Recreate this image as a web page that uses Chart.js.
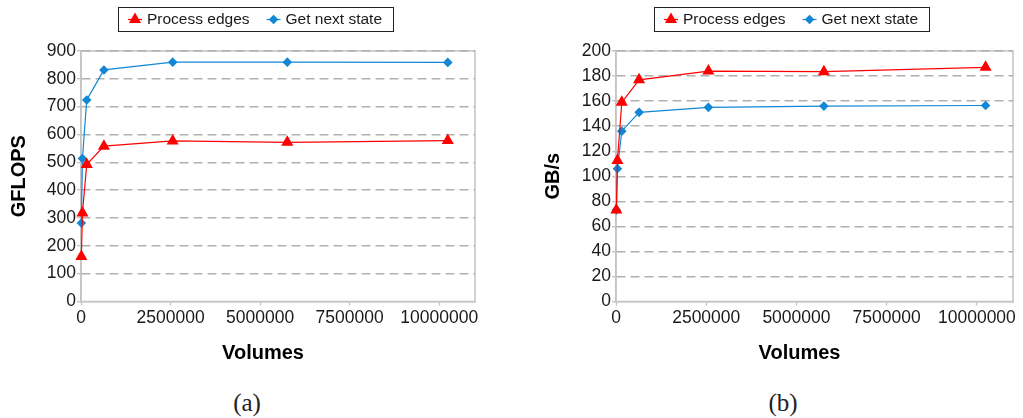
<!DOCTYPE html>
<html lang="en">
<head>
    <meta charset="UTF-8">
    <title>GFLOPS and GB/s vs Volumes</title>
    <style>
        body {
            margin: 0;
            background: #fff;
            width: 1023px;
            height: 418px;
            position: relative;
            overflow: hidden;
            font-family: 'Liberation Sans', Arial, sans-serif;
        }

        .panel {
            position: absolute;
            top: 0;
            height: 380px;
        }

        #panelA { left: 0; width: 512px; }
        #panelB { left: 512px; width: 511px; }

        .caption {
            position: absolute;
            top: 389px;
            font-family: 'Liberation Serif', serif;
            font-size: 25px;
            color: #222;
            transform: translateX(-50%);
        }
    </style>
</head>
<body>

    <div class="panel" id="panelA"><canvas id="chartA" width="512" height="380"></canvas></div>
    <div class="panel" id="panelB"><canvas id="chartB" width="511" height="380"></canvas></div>

    <div class="caption" style="left: 247px;">(a)</div>
    <div class="caption" style="left: 783px;">(b)</div>

    <script src="https://cdn.jsdelivr.net/npm/chart.js"></script>

    <script>
        // volumes (x values, shared by both charts)
        const volumes = [10000, 40000, 160000, 640000, 2560000, 5760000, 10240000];
        const xTicks = [0, 2500000, 5000000, 7500000, 10000000];

        // (a) GFLOPS
        const gflopsProcessEdges = [162, 318, 492, 558, 577, 572, 578];
        const gflopsNextState = [282, 514, 724, 832, 860, 860, 859];

        // (b) GB/s
        const gbsProcessEdges = [73, 112.5, 159, 177, 184, 183.5, 187];
        const gbsNextState = [73, 106, 136, 151, 155, 156, 156.5];

        const seriesLabels = ['Process edges', 'Get next state'];
        const xTitle = 'Volumes';

        const RED = '#ff0000';
        const BLUE = '#1187d6';
        const GRID = '#b0b0b0';
        const FRAME = '#c4c4c4';
        const TEXT = '#1a1a1a';
        const FONT = "'Liberation Sans', Arial, sans-serif";

        // light frame round the plot area, drawn before the grid
        const framePlugin = {
            id: 'frame',
            beforeDraw(chart) {
                const a = chart.chartArea;
                const ctx = chart.ctx;
                ctx.save();
                ctx.strokeStyle = FRAME;
                ctx.lineWidth = 1.5;
                ctx.strokeRect(a.left, a.top, a.right - a.left, a.bottom - a.top);
                ctx.restore();
            }
        };

        // boxed legend with line + marker, plus the x axis title
        const boxLegend = {
            id: 'boxLegend',
            afterDraw(chart, args, o) {
                const ctx = chart.ctx;
                ctx.save();
                ctx.font = '15.5px ' + FONT;
                const items = chart.data.datasets.map(ds => ({ ds, w: ctx.measureText(ds.label).width }));
                const lineLen = 14, padL = 10, padR = 11, gapSym = 5, gapItem = 17;
                let total = padL + padR;
                items.forEach((it, i) => { total += lineLen + gapSym + it.w + (i ? gapItem : 0); });
                const left = Math.round(o.centerX - total / 2);
                const top = 7.5, h = 24;
                ctx.strokeStyle = '#222';
                ctx.lineWidth = 1;
                ctx.strokeRect(left + 0.5, top, Math.round(total), h);

                const cy = top + h / 2;
                let x = left + padL;
                items.forEach((it, i) => {
                    if (i) x += gapItem;
                    ctx.strokeStyle = it.ds.borderColor;
                    ctx.lineWidth = 1.2;
                    ctx.beginPath();
                    ctx.moveTo(x, cy);
                    ctx.lineTo(x + lineLen, cy);
                    ctx.stroke();
                    ctx.fillStyle = it.ds.borderColor;
                    Chart.helpers.drawPoint(ctx, {
                        pointStyle: it.ds.pointStyle,
                        radius: it.ds.pointRadius,
                        rotation: 0,
                        borderWidth: 0
                    }, x + lineLen / 2, cy);
                    x += lineLen + gapSym;
                    ctx.fillStyle = TEXT;
                    ctx.textAlign = 'left';
                    ctx.textBaseline = 'middle';
                    ctx.fillText(it.ds.label, x, cy + 0.5);
                    x += it.w;
                });

                // x axis title, sits a bit left of the plot centre
                const a = chart.chartArea;
                ctx.font = 'bold 20px ' + FONT;
                ctx.fillStyle = '#000';
                ctx.textAlign = 'center';
                ctx.textBaseline = 'middle';
                ctx.fillText(xTitle, (a.left + a.right) / 2 - 15, 353);
                ctx.restore();
            }
        };

        function makeChart(id, cfg) {
            const pts = vals => vals.map((v, i) => ({ x: volumes[i], y: v }));
            return new Chart(document.getElementById(id), {
                type: 'line',
                data: {
                    datasets: [{
                        label: seriesLabels[0],
                        data: pts(cfg.edges),
                        borderColor: RED,
                        backgroundColor: RED,
                        pointStyle: 'triangle',
                        pointRadius: 7,
                        pointBorderWidth: 0,
                        borderWidth: 1.2,
                        tension: 0,
                        clip: false
                    }, {
                        label: seriesLabels[1],
                        data: pts(cfg.next),
                        borderColor: BLUE,
                        backgroundColor: BLUE,
                        pointStyle: 'rectRot',
                        pointRadius: 4.8,
                        pointBorderWidth: 0,
                        borderWidth: 1.2,
                        tension: 0,
                        clip: false
                    }]
                },
                options: {
                    responsive: false,
                    animation: false,
                    layout: { padding: { top: 51, right: cfg.padRight, bottom: 0, left: 0 } },
                    plugins: {
                        legend: { display: false },
                        tooltip: { enabled: false },
                        boxLegend: { centerX: cfg.legendX }
                    },
                    scales: {
                        x: {
                            type: 'linear',
                            min: 0,
                            max: 11000000,
                            afterBuildTicks: s => { s.ticks = xTicks.map(v => ({ value: v })); },
                            ticks: {
                                autoSkip: false,
                                maxRotation: 0,
                                padding: 2,
                                color: TEXT,
                                font: { size: 17.5, family: FONT },
                                callback: v => String(v)
                            },
                            grid: {
                                drawOnChartArea: false,
                                drawTicks: true,
                                tickLength: 4,
                                tickColor: FRAME,
                                tickWidth: 1.4
                            },
                            border: { color: FRAME, width: 1.5 },
                            afterFit: s => { s.height = 78.5; }
                        },
                        y: {
                            min: 0,
                            max: cfg.yMax,
                            ticks: {
                                stepSize: cfg.yStep,
                                padding: 1,
                                color: TEXT,
                                font: { size: 17.5, family: FONT }
                            },
                            grid: {
                                color: c => (c.tick && c.tick.value === 0) ? 'rgba(0,0,0,0)' : GRID,
                                lineWidth: 1.4,
                                tickLength: 4,
                                tickColor: FRAME,
                                tickWidth: 1.4
                            },
                            border: { color: FRAME, width: 1.5, dash: [9, 5] },
                            title: {
                                display: true,
                                text: cfg.yTitle,
                                color: '#000',
                                font: { size: 20, weight: 'bold', family: FONT },
                                padding: { top: cfg.titlePad, bottom: 0 }
                            },
                            afterFit: s => { s.width = cfg.yWidth; }
                        }
                    }
                },
                plugins: [framePlugin, boxLegend]
            });
        }

        makeChart('chartA', {
            edges: gflopsProcessEdges, next: gflopsNextState,
            yMax: 900, yStep: 100, yTitle: 'GFLOPS',
            yWidth: 81, padRight: 37, titlePad: 7.5, legendX: 255.5
        });

        makeChart('chartB', {
            edges: gbsProcessEdges, next: gbsNextState,
            yMax: 200, yStep: 20, yTitle: 'GB/s',
            yWidth: 104, padRight: 10, titlePad: 29.5, legendX: 279.5
        });
    </script>
</body>
</html>
